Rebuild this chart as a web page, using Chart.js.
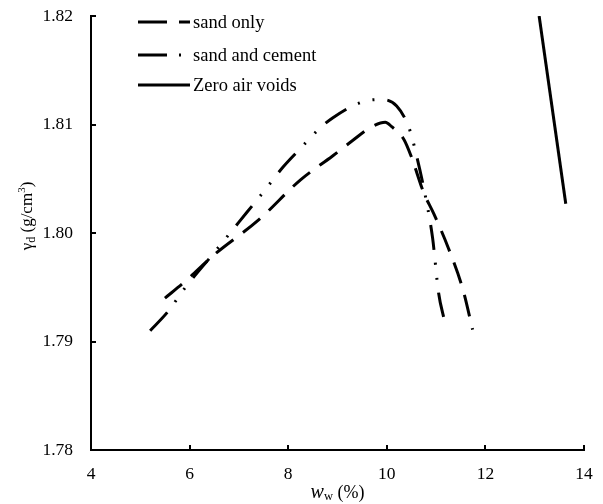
<!DOCTYPE html>
<html>
<head>
<meta charset="utf-8">
<script src="https://cdn.jsdelivr.net/npm/chart.js@4/dist/chart.umd.min.js"></script>
<style>
  html, body { margin: 0; padding: 0; background: #fff; }
  #wrap { width: 603px; height: 504px; }
</style>
</head>
<body>
<div id="wrap"><canvas id="proctor"></canvas></div>
<script>
// values
const seriesNames = ['sand only', 'sand and cement', 'Zero air voids'];

const sandX = [5.5, 5.9, 6.5, 7.4, 8.25, 8.9, 9.3, 9.7, 9.97, 10.1, 10.35, 10.5, 10.75, 10.95, 11.25, 11.55, 11.74];
const sandY = [1.7940, 1.7955, 1.7980, 1.8012, 1.8049, 1.8071, 1.8085, 1.8098, 1.8102, 1.8098, 1.8086, 1.8070, 1.8037, 1.8018, 1.7986, 1.7947, 1.7911];

const cementX = [5.2, 5.55, 5.9, 6.5, 7.0, 7.5, 7.9, 8.25, 8.65, 8.9, 9.3, 9.6, 9.9, 10.2, 10.45, 10.6, 10.8, 10.93, 11.05, 11.17];
const cementY = [1.7910, 1.7927, 1.7949, 1.7982, 1.8010, 1.8038, 1.8061, 1.8078, 1.8097, 1.8106, 1.8117, 1.8122, 1.8123, 1.8117, 1.8097, 1.8072, 1.8030, 1.7995, 1.7945, 1.7919];

const zavX = [13.09, 13.63];
const zavY = [1.8200, 1.8027];

const xTicks = [4, 6, 8, 10, 12, 14];
const yTicks = [1.78, 1.79, 1.80, 1.81, 1.82];

const FONT = '"Liberation Serif", "Times New Roman", serif';

function pts(xs, ys) {
	return xs.map((x, i) => ({ x: x, y: ys[i] }));
}

// draws a run of text pieces (with sub/superscripts) starting at x, baseline y
function drawRich(ctx, parts, x, y) {
	let cx = x;
	parts.forEach((p) => {
		ctx.font = (p.italic ? 'italic ' : '') + p.size + 'px ' + FONT;
		ctx.fillText(p.t, cx, y + (p.dy || 0));
		cx += ctx.measureText(p.t).width;
	});
}
function richWidth(ctx, parts) {
	let w = 0;
	parts.forEach((p) => {
		ctx.font = (p.italic ? 'italic ' : '') + p.size + 'px ' + FONT;
		w += ctx.measureText(p.t).width;
	});
	return w;
}

const decorPlugin = {
	id: 'decor',
	afterDraw(chart) {
		const ctx = chart.ctx;
		const xs = chart.scales.x;
		const ys = chart.scales.y;
		const area = chart.chartArea;
		ctx.save();
		ctx.strokeStyle = '#000';
		ctx.fillStyle = '#000';

		// inward tick marks
		ctx.lineWidth = 2;
		ctx.setLineDash([]);
		xTicks.forEach((v) => {
			const px = Math.round(xs.getPixelForValue(v));
			ctx.beginPath();
			ctx.moveTo(px, area.bottom);
			ctx.lineTo(px, area.bottom - 5);
			ctx.stroke();
		});
		yTicks.forEach((v) => {
			const py = Math.round(ys.getPixelForValue(v));
			ctx.beginPath();
			ctx.moveTo(area.left, py);
			ctx.lineTo(area.left + 5, py);
			ctx.stroke();
		});

		// legend
		const legendDash = [[29, 12], [29, 12, 2, 60], []];
		const rowY = [22, 55, 85];
		ctx.lineWidth = 3;
		ctx.lineCap = 'butt';
		seriesNames.forEach((name, i) => {
			ctx.setLineDash(legendDash[i]);
			ctx.beginPath();
			ctx.moveTo(138, rowY[i]);
			ctx.lineTo(190, rowY[i]);
			ctx.stroke();
			ctx.setLineDash([]);
			ctx.font = '18.5px ' + FONT;
			ctx.textBaseline = 'middle';
			ctx.textAlign = 'left';
			ctx.fillText(name, 193, rowY[i] + 1);
		});

		// axis titles
		ctx.textBaseline = 'alphabetic';
		ctx.textAlign = 'left';
		const xTitle = [
			{ t: 'w', size: 20, italic: true },
			{ t: 'w', size: 12.5, dy: 2 },
			{ t: ' (%)', size: 18 }
		];
		const xw = richWidth(ctx, xTitle);
		drawRich(ctx, xTitle, (area.left + area.right) / 2 - xw / 2, 498);

		const yTitle = [
			{ t: 'γ', size: 17 },
			{ t: 'd', size: 12, dy: 3 },
			{ t: ' (g/cm', size: 17 },
			{ t: '3', size: 11, dy: -7 },
			{ t: ')', size: 17 }
		];
		const yw = richWidth(ctx, yTitle);
		ctx.translate(32, 216 + yw / 2);
		ctx.rotate(-Math.PI / 2);
		drawRich(ctx, yTitle, 0, 0);
		ctx.restore();
	}
};

const ctx = document.getElementById('proctor').getContext('2d');

new Chart(ctx, {
	type: 'line',
	data: {
		datasets: [{
			label: seriesNames[0],
			data: pts(sandX, sandY),
			borderColor: '#000',
			borderWidth: 3,
			borderDash: [22, 12],
			pointRadius: 0,
			cubicInterpolationMode: 'monotone',
			fill: false
		}, {
			label: seriesNames[1],
			data: pts(cementX, cementY),
			borderColor: '#000',
			borderWidth: 3,
			borderDash: [25, 13, 2, 13, 2, 13],
			pointRadius: 0,
			cubicInterpolationMode: 'monotone',
			fill: false
		}, {
			label: seriesNames[2],
			data: pts(zavX, zavY),
			borderColor: '#000',
			borderWidth: 3,
			pointRadius: 0,
			fill: false
		}]
	},
	options: {
		responsive: true,
		maintainAspectRatio: false,
		animation: false,
		layout: {
			padding: { top: 16, right: 19, left: 0, bottom: 0 }
		},
		plugins: {
			legend: { display: false },
			tooltip: { enabled: false }
		},
		scales: {
			x: {
				type: 'linear',
				min: 4,
				max: 14,
				afterBuildTicks: (s) => { s.ticks = xTicks.map((v) => ({ value: v })); },
				afterFit: (s) => { s.height = 54; s.paddingLeft = 0; s.paddingRight = 0; },
				grid: { display: false, drawTicks: false },
				border: { display: true, color: '#000', width: 2 },
				ticks: {
					color: '#000',
					padding: 14,
					font: { family: FONT, size: 17.5 }
				}
			},
			y: {
				type: 'linear',
				min: 1.78,
				max: 1.82,
				afterBuildTicks: (s) => { s.ticks = yTicks.map((v) => ({ value: v })); },
				afterFit: (s) => { s.width = 91; s.paddingTop = 0; s.paddingBottom = 0; },
				grid: { display: false, drawTicks: false },
				border: { display: true, color: '#000', width: 2 },
				ticks: {
					color: '#000',
					padding: 18,
					font: { family: FONT, size: 17.5 },
					callback: (v) => v.toFixed(2)
				}
			}
		}
	},
	plugins: [decorPlugin]
});
</script>
</body>
</html>
